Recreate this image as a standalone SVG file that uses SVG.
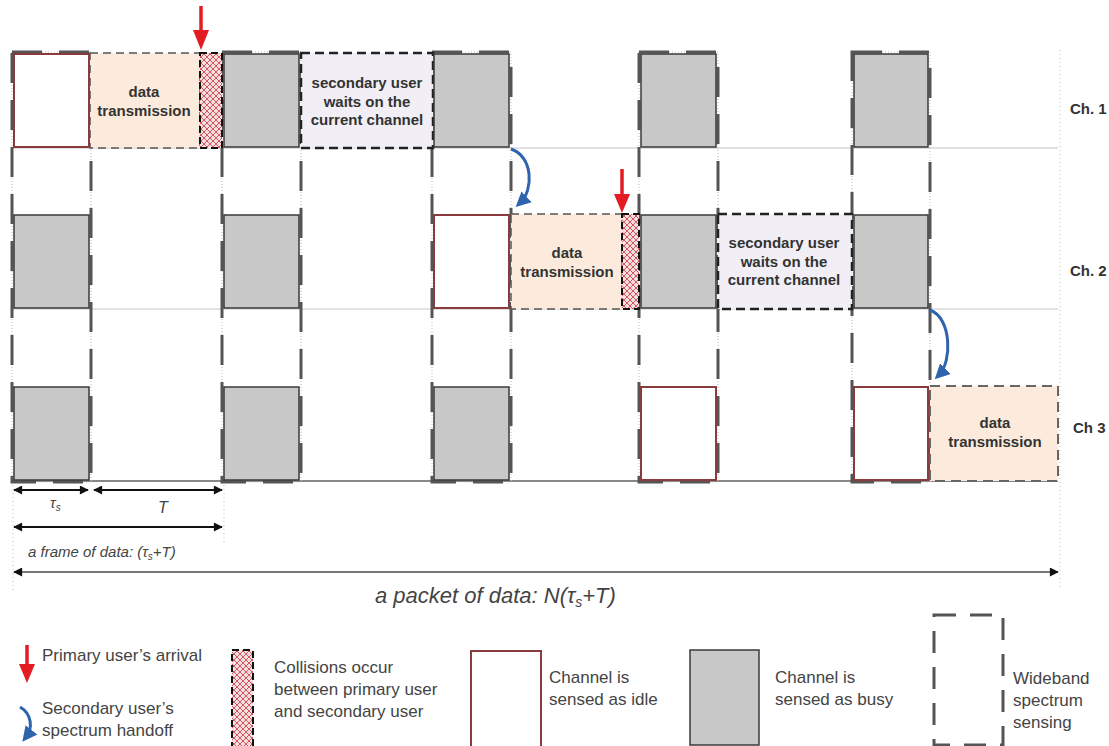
<svg xmlns="http://www.w3.org/2000/svg" width="1109" height="746" viewBox="0 0 1109 746">
<style>
.idle{fill:#fff;stroke:#8a3b3b;stroke-width:2}
.busy{fill:#c8c8c8;stroke:#3a3a3a;stroke-width:1.5}
.data{fill:#fcebdc;stroke:#555;stroke-width:1.5;stroke-dasharray:8 5}
.wait{fill:#f1eff5;stroke:#222;stroke-width:2.5;stroke-dasharray:9 5}
.coll{fill:url(#hatch);stroke:#111;stroke-width:2;stroke-dasharray:7 4}
.wb{fill:none;stroke:#555;stroke-width:3;stroke-dasharray:30 17}
.wbdot{fill:none;stroke:#bbb;stroke-width:1;stroke-dasharray:1 2}
.hl{stroke:#c4c4c4;stroke-width:1}
.lbl{font-family:"Liberation Sans",Arial,sans-serif;font-weight:bold;font-size:15px;fill:#333;text-anchor:middle}
.ch{font-family:"Liberation Sans",Arial,sans-serif;font-weight:bold;font-size:15px;fill:#333}
.leg{font-family:"Liberation Sans",Arial,sans-serif;font-size:17px;fill:#444}
.dim{font-family:"Liberation Sans",Arial,sans-serif;font-style:italic;fill:#444}
.red{stroke:#e31b23;stroke-width:3.5;fill:none}
.redh{fill:#e31b23}
.blue{stroke:#2f63ad;stroke-width:3;fill:none}
.dimline{stroke:#111;stroke-width:1.8;fill:none}
.dot{stroke:#bbb;stroke-width:1;stroke-dasharray:1 3;fill:none}
</style>
<defs>
<pattern id="hatch" width="6" height="6" patternUnits="userSpaceOnUse">
<rect width="6" height="6" fill="#f7dede"/>
<path d="M0,0 L6,6 M6,0 L0,6" stroke="#d4555d" stroke-width="1"/>
</pattern>
<marker id="bh" viewBox="0 0 10 10" refX="6" refY="5" markerWidth="5" markerHeight="5" orient="auto">
<path d="M0,0 L10,5 L0,10 z" fill="#2f63ad"/>
</marker>
<marker id="ahs" viewBox="0 0 10 10" refX="9" refY="5" markerWidth="12" markerHeight="9" orient="auto-start-reverse" markerUnits="userSpaceOnUse">
<path d="M0,0 L10,5 L0,10 z" fill="#111"/>
</marker>
</defs>
<rect width="1109" height="746" fill="#fff"/>

<g id="grid">
<line class="hl" x1="13" y1="148" x2="1058" y2="148"/>
<line class="hl" x1="13" y1="309" x2="1058" y2="309"/>
<line x1="13" y1="481" x2="1058" y2="481" stroke="#888" stroke-width="2"/>
<line class="dot" x1="1060" y1="50" x2="1060" y2="590"/>
<line class="dot" x1="13" y1="481" x2="13" y2="590"/>
<line class="dot" x1="224" y1="481" x2="224" y2="545"/>
</g>

<g id="wideband">
<rect class="wbdot" x="12" y="52" width="79" height="430"/>
<rect class="wbdot" x="222" y="52" width="79" height="430"/>
<rect class="wbdot" x="432" y="52" width="79" height="430"/>
<rect class="wbdot" x="639" y="52" width="79" height="430"/>
<rect class="wbdot" x="852" y="52" width="78" height="430"/>
<rect class="wb" x="12" y="52" width="79" height="430"/>
<rect class="wb" x="222" y="52" width="79" height="430"/>
<rect class="wb" x="432" y="52" width="79" height="430"/>
<rect class="wb" x="639" y="52" width="79" height="430"/>
<rect class="wb" x="852" y="52" width="78" height="430"/>
</g>

<g id="ch1">
<rect class="data" x="90" y="53" width="110" height="95"/>
<text class="lbl" x="144" y="97">data</text>
<text class="lbl" x="144" y="116">transmission</text>
<rect class="wait" x="301" y="53" width="132" height="95"/>
<text class="lbl" x="367" y="88">secondary user</text>
<text class="lbl" x="367" y="107">waits on the</text>
<text class="lbl" x="367" y="125">current channel</text>
<rect class="coll" x="200" y="53" width="22" height="95"/>
<rect class="idle" x="14" y="54" width="75" height="93"/>
<rect class="busy" x="224" y="54" width="75" height="93"/>
<rect class="busy" x="434" y="54" width="75" height="93"/>
<rect class="busy" x="641" y="54" width="75" height="93"/>
<rect class="busy" x="854" y="54" width="74" height="93"/>
<text class="ch" x="1070" y="114">Ch. 1</text>
</g>

<g id="ch2">
<rect class="data" x="511" y="214" width="111" height="95"/>
<text class="lbl" x="567" y="258">data</text>
<text class="lbl" x="567" y="277">transmission</text>
<rect class="wait" x="718" y="214" width="134" height="95"/>
<text class="lbl" x="784" y="248">secondary user</text>
<text class="lbl" x="784" y="267">waits on the</text>
<text class="lbl" x="784" y="285">current channel</text>
<rect class="coll" x="622" y="214" width="17" height="95"/>
<rect class="busy" x="14" y="215" width="75" height="93"/>
<rect class="busy" x="224" y="215" width="75" height="93"/>
<rect class="idle" x="434" y="215" width="75" height="93"/>
<rect class="busy" x="641" y="215" width="75" height="93"/>
<rect class="busy" x="854" y="215" width="74" height="93"/>
<text class="ch" x="1070" y="276">Ch. 2</text>
</g>

<g id="ch3">
<rect x="930" y="386" width="128" height="95" fill="#fcebdc" stroke="#666" stroke-width="2" stroke-dasharray="10 6"/>
<text class="lbl" x="995" y="428">data</text>
<text class="lbl" x="995" y="447">transmission</text>
<rect class="busy" x="14" y="387" width="75" height="93"/>
<rect class="busy" x="224" y="387" width="75" height="93"/>
<rect class="busy" x="434" y="387" width="75" height="93"/>
<rect class="idle" x="641" y="387" width="75" height="93"/>
<rect class="idle" x="854" y="387" width="74" height="93"/>
<text class="ch" x="1073" y="433">Ch 3</text>
</g>

<g id="connectors">
<line class="red" x1="201" y1="6" x2="201" y2="32"/>
<polygon class="redh" points="193,30 209,30 201,50"/>
<line class="red" x1="622" y1="169" x2="622" y2="196"/>
<polygon class="redh" points="614,194 630,194 622,213"/>
<path class="blue" d="M511,149 C533,156 534,190 520,203" marker-end="url(#bh)"/>
<path class="blue" d="M930,310 C952,318 952,362 939,375" marker-end="url(#bh)"/>
<line class="dimline" x1="14" y1="490" x2="88" y2="490" marker-start="url(#ahs)" marker-end="url(#ahs)"/>
<line class="dimline" x1="94" y1="490" x2="222" y2="490" marker-start="url(#ahs)" marker-end="url(#ahs)"/>
<line class="dimline" x1="14" y1="527" x2="222" y2="527" marker-start="url(#ahs)" marker-end="url(#ahs)"/>
<line x1="14" y1="572" x2="1058" y2="572" stroke="#777" stroke-width="2" marker-start="url(#ahs)" marker-end="url(#ahs)"/>
</g>

<g id="dims">
<text class="dim" x="50" y="508" font-size="15">τ<tspan font-size="10" dy="3">s</tspan></text>
<text class="dim" x="158" y="513" font-size="16">T</text>
<text class="dim" x="28" y="557" font-size="15">a frame of data: (τ<tspan font-size="10" dy="3">s</tspan><tspan dy="-3">+T)</tspan></text>
<text class="dim" x="375" y="603" font-size="22">a packet of data: N(τ<tspan font-size="14" dy="4">s</tspan><tspan dy="-4">+T)</tspan></text>
</g>

<g id="legend">
<line class="red" x1="27" y1="645" x2="27" y2="666"/>
<polygon class="redh" points="19,664 35,664 27,683"/>
<text class="leg" x="42" y="661">Primary user’s arrival</text>
<path class="blue" d="M20,707 C32,714 33,728 26,737" marker-end="url(#bh)"/>
<text class="leg" x="42" y="714">Secondary user’s</text>
<text class="leg" x="42" y="736">spectrum handoff</text>
<rect class="coll" x="232" y="650" width="21" height="100"/>
<text class="leg" x="274" y="673">Collisions occur</text>
<text class="leg" x="274" y="695">between primary user</text>
<text class="leg" x="274" y="717">and secondary user</text>
<rect class="idle" x="471" y="651" width="70" height="100"/>
<text class="leg" x="549" y="683">Channel is</text>
<text class="leg" x="549" y="705">sensed as idle</text>
<rect class="busy" x="690" y="650" width="69" height="95"/>
<text class="leg" x="775" y="683">Channel is</text>
<text class="leg" x="775" y="705">sensed as busy</text>
<rect x="934" y="615" width="69" height="130" fill="none" stroke="#555" stroke-width="3" stroke-dasharray="22 14"/>
<text class="leg" x="1013" y="684">Wideband</text>
<text class="leg" x="1013" y="706">spectrum</text>
<text class="leg" x="1013" y="728">sensing</text>
</g>
</svg>
